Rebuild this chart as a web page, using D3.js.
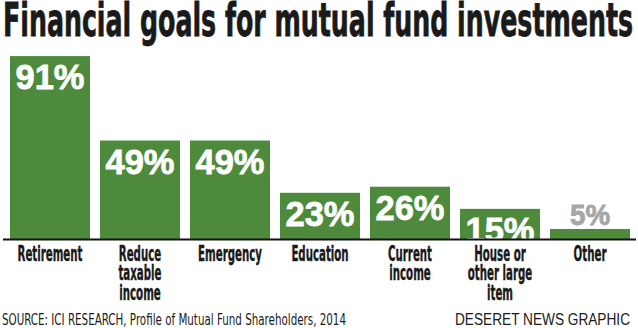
<!DOCTYPE html>
<html>
<head>
<meta charset="utf-8">
<script src="https://cdn.jsdelivr.net/npm/d3@7"></script>
<style>
  body { margin: 0; background: #fff; }
  svg { display: block; }
</style>
</head>
<body>
<div id="chart"></div>
<script>
const categories = ["Retirement", "Reduce\ntaxable\nincome", "Emergency", "Education", "Current\nincome", "House or\nother large\nitem", "Other"]
const values = [91, 49, 49, 23, 26, 15, 5]
const title = "Financial goals for mutual fund investments"
const source = "SOURCE: ICI RESEARCH, Profile of Mutual Fund Shareholders, 2014"
const credit = "DESERET NEWS GRAPHIC"

const width = 638,
    height = 328

const narrow = "'Liberation Sans Narrow', 'DejaVu Sans Condensed', sans-serif"
const green = "#4e8a3c"

const data = categories.map((c, i) => ({ name: c, value: values[i] }))

const x = d3.scaleBand()
    .domain(categories)
    .range([5, 635])
    .paddingInner(1 / 9)
    .paddingOuter(1 / 18)

const y = d3.scaleLinear()
    .domain([0, 100])
    .range([239, 38])

const svg = d3.select("#chart").append("svg")
    .attr("width", width)
    .attr("height", height)

svg.append("text")
    .attr("x", 3)
    .attr("y", 36)
    .attr("font-family", narrow)
    .attr("font-weight", "bold")
    .attr("font-size", 46)
    .attr("fill", "#1a1a1a")
    .attr("stroke", "#1a1a1a")
    .attr("stroke-width", 0.8)
    .attr("textLength", 630)
    .attr("lengthAdjust", "spacingAndGlyphs")
    .text(title)

const bar = svg.selectAll("g.bar")
    .data(data)
    .join("g")
    .attr("class", "bar")

bar.append("rect")
    .attr("fill", green)
    .attr("x", d => x(d.name))
    .attr("y", d => y(d.value))
    .attr("width", x.bandwidth())
    .attr("height", d => y(0) - y(d.value))

// small bars get their label above in grey
const pct = bar.append("g")
    .attr("transform", d => `translate(${x(d.name) + x.bandwidth() / 2},${d.value < 10 ? y(d.value) - 4 : y(d.value) + 33})`)
    .append("text")
    .attr("text-anchor", "middle")
    .attr("font-family", "'Liberation Sans', Arial, sans-serif")
    .attr("font-weight", "bold")
    .attr("font-size", d => d.value < 10 ? 29 : 36)
    .attr("fill", d => d.value < 10 ? "#a6a6a6" : "#fff")
    .attr("stroke", d => d.value < 10 ? "#a6a6a6" : "#fff")
    .attr("stroke-width", 0.8)
    .text(d => d.value + "%")

// squeeze the numbers a little, the original face is condensed
const pctScale = 69 / pct.node().getComputedTextLength()
pct.attr("transform", `scale(${pctScale},1)`)

// baseline
svg.append("line")
    .attr("x1", 3)
    .attr("x2", 636)
    .attr("y1", y(0) + 0.5)
    .attr("y2", y(0) + 0.5)
    .attr("stroke", "#111")
    .attr("stroke-width", 2)

const lab = svg.selectAll("g.lab")
    .data(data)
    .join("g")
    .attr("class", "lab")

const labText = lab.append("text")
    .attr("text-anchor", "middle")
    .attr("font-family", narrow)
    .attr("font-weight", "bold")
    .attr("font-size", 21)
    .attr("fill", "#1a1a1a")
    .attr("stroke", "#1a1a1a")
    .attr("stroke-width", 0.4)

labText.selectAll("tspan")
    .data(d => d.name.split("\n"))
    .join("tspan")
    .attr("x", 0)
    .attr("y", (d, i) => 261 + i * 19.5)
    .text(d => d)

// "Retirement" is about 65px wide in the original
const labScale = 65 / labText.node().getComputedTextLength()
lab.attr("transform", d => `translate(${x(d.name) + x.bandwidth() / 2},0) scale(${labScale},1)`)

svg.append("text")
    .attr("x", 2)
    .attr("y", 325)
    .attr("font-family", narrow)
    .attr("font-size", 16)
    .attr("fill", "#1a1a1a")
    .attr("textLength", 344)
    .attr("lengthAdjust", "spacingAndGlyphs")
    .text(source)

svg.append("text")
    .attr("x", 455)
    .attr("y", 325)
    .attr("font-family", "'Liberation Sans', Arial, sans-serif")
    .attr("font-size", 16)
    .attr("fill", "#1a1a1a")
    .attr("textLength", 175)
    .attr("lengthAdjust", "spacingAndGlyphs")
    .text(credit)
</script>
</body>
</html>
